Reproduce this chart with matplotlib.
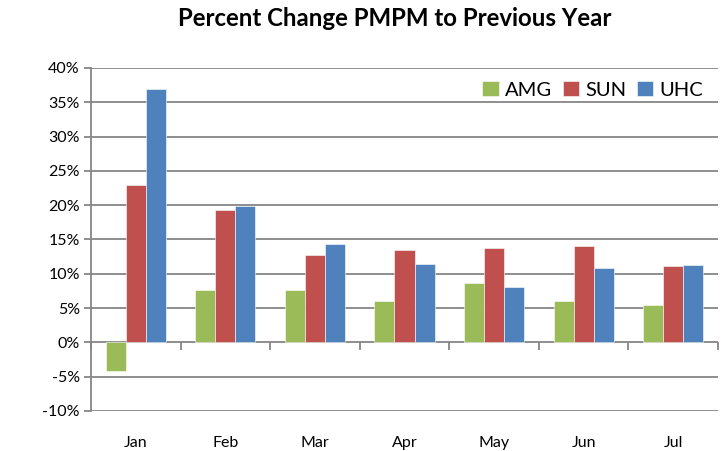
import matplotlib
matplotlib.use("Agg")
import matplotlib.pyplot as plt
import numpy as np
from matplotlib.ticker import FuncFormatter

months = ["Jan", "Feb", "Mar", "Apr", "May", "Jun", "Jul"]
amg = [-4.2, 7.6, 7.65, 6.1, 8.7, 6.0, 5.5]
sun = [23.0, 19.3, 12.8, 13.5, 13.8, 14.1, 11.1]
uhc = [37.0, 19.9, 14.3, 11.4, 8.1, 10.8, 11.3]
series = [("AMG", amg, "#9BBB59"), ("SUN", sun, "#C0504D"), ("UHC", uhc, "#4F81BD")]
yticks = list(range(-10, 41, 5))

plt.rcParams['font.family'] = ['Lato', 'DejaVu Sans']
fig = plt.figure(figsize=(7.21, 4.51), dpi=100)
ax = fig.add_axes([91/721, 40/451, (718-91)/721, (411-68)/451])

x = np.arange(len(months))
w = 0.224
for i, (name, vals, col) in enumerate(series):
    ax.bar(x + (i - 1) * w, vals, w, color=col, label=name, zorder=3,
           edgecolor='white', linewidth=0.4)

ax.set_xlim(-0.5, len(months) - 0.5)
ax.set_ylim(-10, 40)
ax.set_yticks(yticks)
ax.yaxis.set_major_formatter(FuncFormatter(lambda v, p: f"{int(v)}%"))
ax.grid(axis='y', color='#868686', linewidth=1.3, zorder=0)
ax.set_axisbelow(True)
for s in ['top', 'right', 'bottom']:
    ax.spines[s].set_visible(False)
ax.spines['left'].set_color('#868686')
ax.spines['left'].set_linewidth(1.3)
ax.tick_params(axis='y', colors='#868686', length=5, width=1.3, labelsize=11.5,
               labelcolor='black', pad=3)
ax.set_xticks(x)
ax.set_xticklabels(months)
ax.tick_params(axis='x', length=0, labelsize=11.5, pad=18)

sec = ax.secondary_xaxis(0.2)
sec.set_xticks(np.arange(len(months) + 1) - 0.5)
sec.set_xticklabels([])
sec.spines['bottom'].set_visible(False)
sec.tick_params(axis='x', direction='out', length=6, width=1.3, colors='#868686')

ax.legend(loc='upper right', ncol=3, frameon=False, fontsize=14.5, handlelength=0.8,
          handleheight=0.8, handletextpad=0.3, columnspacing=0.55,
          bbox_to_anchor=(1.005, 1.015))

fig.suptitle("Percent Change PMPM to Previous Year", x=395/721, y=0.985,
             fontsize=17.3, fontweight='bold')
fig.savefig("out.png", dpi=100)
